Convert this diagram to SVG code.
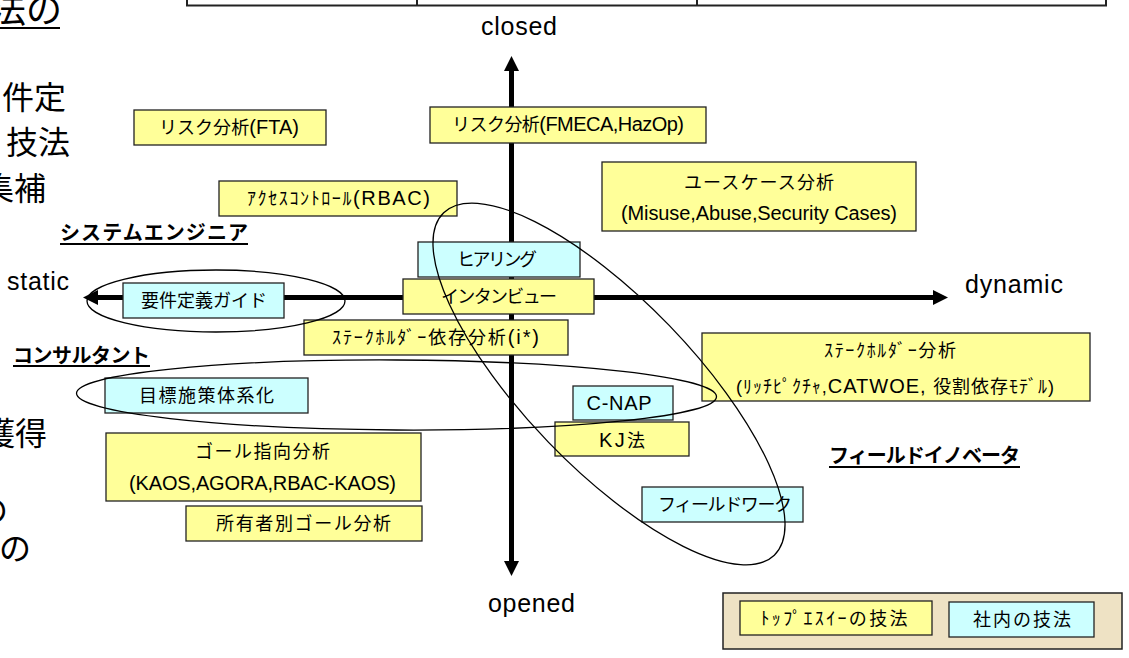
<svg xmlns="http://www.w3.org/2000/svg" width="1129" height="658" viewBox="0 0 1129 658">
<style>
  text { font-family: "Liberation Sans", "Noto Sans CJK JP", sans-serif; fill: #000; }
  .frag { font-family: "Noto Sans CJK JP", sans-serif; font-size: 32px; }
  .ax { font-size: 25px; }
  .bt { font-size: 18px; text-anchor: middle; }
  .lat { font-size: 20px; }
  .role { font-size: 20px; font-weight: bold; }
  .y { fill: #FFFF99; stroke: #222; stroke-width: 1.3; }
  .c { fill: #CCFFFF; stroke: #222; stroke-width: 1.3; }
  .ell { fill: none; stroke: #000; stroke-width: 1.3; }
  .axis { stroke: #000; stroke-width: 5; fill: none; }
  .ul { stroke: #000; stroke-width: 2; }
</style>
<defs>
  <marker id="ah" viewBox="0 0 10 10" refX="0" refY="5" markerWidth="15" markerHeight="15" markerUnits="userSpaceOnUse" orient="auto-start-reverse">
    <path d="M0,0 L10,5 L0,10 z" fill="#000"/>
  </marker>
</defs>
<rect width="1129" height="658" fill="#fff"/>

<!-- top table fragment -->
<g id="table">
  <rect x="187" y="-20" width="919" height="25.5" fill="#fff" stroke="#222" stroke-width="2"/>
  <line x1="417" y1="-20" x2="417" y2="5.5" stroke="#222" stroke-width="2"/>
  <line x1="697" y1="-20" x2="697" y2="5.5" stroke="#222" stroke-width="2"/>
</g>

<!-- left cut-off slide text -->
<g id="left-text">
  <text class="frag" x="62" y="23" text-anchor="end" style="font-size:36px">法の</text>
  <line class="ul" x1="0" y1="28" x2="60" y2="28"/>
  <text class="frag" x="66" y="109" text-anchor="end">件定</text>
  <text class="frag" x="70" y="154" text-anchor="end">技法</text>
  <text class="frag" x="46" y="200" text-anchor="end">集補</text>
  <text class="frag" x="47" y="445" text-anchor="end">獲得</text>
  <text class="frag" x="8" y="522" text-anchor="end">の</text>
  <text class="frag" x="31" y="560" text-anchor="end">の</text>
</g>

<!-- axes -->
<g id="connectors">
  <line class="axis" x1="511.5" y1="561" x2="511.5" y2="71" marker-start="url(#ah)" marker-end="url(#ah)"/>
  <line class="axis" x1="933" y1="297.5" x2="98" y2="297.5" marker-start="url(#ah)" marker-end="url(#ah)"/>
</g>

<g id="axis-labels">
  <text class="ax" x="481" y="35" textLength="76">closed</text>
  <text class="ax" x="488" y="612" textLength="87">opened</text>
  <text class="ax" x="7" y="290" textLength="62">static</text>
  <text class="ax" x="965" y="293" textLength="98">dynamic</text>
</g>

<g id="roles">
  <text class="role" x="60" y="240" textLength="188">システムエンジニア</text>
  <line class="ul" x1="60" y1="244" x2="248" y2="244"/>
  <text class="role" x="13" y="363" textLength="137">コンサルタント</text>
  <line class="ul" x1="13" y1="366" x2="150" y2="366"/>
  <text class="role" x="829" y="463" textLength="191">フィールドイノベータ</text>
  <line class="ul" x1="829" y1="467" x2="1020" y2="467"/>
</g>

<g id="n-fta">
  <rect class="y" x="134" y="110" width="192" height="35"/>
  <text class="bt" x="229" y="134" textLength="140">リスク分析<tspan class="lat">(FTA)</tspan></text>
</g>
<g id="n-rbac">
  <rect class="y" x="219" y="181" width="238" height="35"/>
  <text class="bt" x="338.5" y="205" textLength="183">ｱｸｾｽｺﾝﾄﾛｰﾙ<tspan class="lat">(RBAC)</tspan></text>
</g>
<g id="n-fmeca">
  <rect class="y" x="430" y="107" width="276" height="36"/>
  <text class="bt" x="568" y="131" textLength="232">リスク分析<tspan class="lat">(FMECA,HazOp)</tspan></text>
</g>
<g id="n-usecase">
  <rect class="y" x="602" y="162" width="314" height="69"/>
  <text class="bt" x="759" y="189" textLength="150">ユースケース分析</text>
  <text class="bt lat" x="759" y="220" textLength="276">(Misuse,Abuse,Security Cases)</text>
</g>
<g id="n-hearing">
  <rect class="c" x="418" y="242" width="162" height="35"/>
  <text class="bt" x="497" y="266" textLength="80">ヒアリング</text>
</g>
<g id="n-interview">
  <rect class="y" x="403" y="279" width="191" height="35"/>
  <text class="bt" x="499" y="303" textLength="116">インタンビュー</text>
</g>
<g id="n-istar">
  <rect class="y" x="304" y="320" width="264" height="35"/>
  <text class="bt" x="435.5" y="344" textLength="207">ｽﾃｰｸﾎﾙﾀﾞｰ依存分析<tspan class="lat">(i*)</tspan></text>
</g>
<g id="n-guide">
  <rect class="c" x="123" y="283" width="161" height="35"/>
  <text class="bt" x="204" y="307" textLength="126">要件定義ガイド</text>
</g>
<g id="n-goaltree">
  <rect class="c" x="105" y="378" width="203" height="35"/>
  <text class="bt" x="206.5" y="402" textLength="135">目標施策体系化</text>
</g>
<g id="n-goal">
  <rect class="y" x="106" y="433" width="315" height="68"/>
  <text class="bt" x="262.5" y="458" textLength="135">ゴール指向分析</text>
  <text class="bt lat" x="262.5" y="490" textLength="267">(KAOS,AGORA,RBAC-KAOS)</text>
</g>
<g id="n-owner">
  <rect class="y" x="186" y="506" width="236" height="35"/>
  <text class="bt" x="303.5" y="530" textLength="175">所有者別ゴール分析</text>
</g>
<g id="n-stakeholder">
  <rect class="y" x="702" y="333" width="388" height="68"/>
  <text class="bt" x="890" y="357" textLength="132">ｽﾃｰｸﾎﾙﾀﾞｰ分析</text>
  <text class="bt" x="895" y="393" textLength="318">(ﾘｯﾁﾋﾟｸﾁｬ,<tspan class="lat">CATWOE, </tspan>役割依存ﾓﾃﾞﾙ)</text>
</g>
<g id="n-cnap">
  <rect class="c" x="573" y="386" width="100" height="34"/>
  <text class="bt lat" x="619" y="410" textLength="65">C-NAP</text>
</g>
<g id="n-kj">
  <rect class="y" x="555" y="422" width="134" height="34"/>
  <text class="bt" x="622" y="447" textLength="46"><tspan class="lat">KJ</tspan>法</text>
</g>
<g id="n-fieldwork">
  <rect class="c" x="642" y="487" width="161" height="35"/>
  <text class="bt" x="725" y="511" textLength="134">フィールドワーク</text>
</g>

<g id="groups">
  <ellipse class="ell" cx="216" cy="301" rx="129" ry="31"/>
  <ellipse class="ell" cx="396.5" cy="395" rx="320" ry="35" transform="rotate(0.3 396.5 395)"/>
  <ellipse class="ell" cx="609" cy="384" rx="238" ry="84" transform="rotate(46 609 384)"/>
</g>

<g id="legend">
  <rect x="723" y="593" width="399" height="56" fill="#EEE2C4" stroke="#222" stroke-width="1.5"/>
  <rect class="y" x="740" y="601" width="192" height="34"/>
  <text class="bt" x="834" y="625" textLength="147">ﾄｯﾌﾟｴｽｲｰの技法</text>
  <rect class="c" x="949" y="602" width="145" height="35"/>
  <text class="bt" x="1022" y="626" textLength="98">社内の技法</text>
</g>
</svg>
